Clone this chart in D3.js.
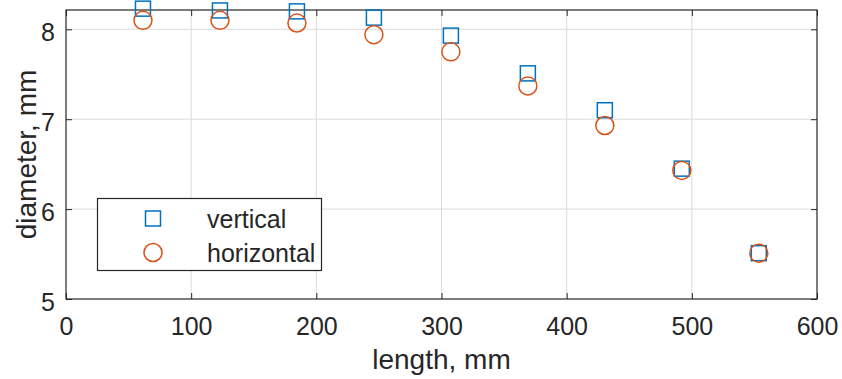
<!DOCTYPE html>
<html>
<head>
<meta charset="utf-8">
<script src="https://cdn.jsdelivr.net/npm/d3@7"></script>
<style>
  html, body { margin: 0; padding: 0; background: #fff; }
  svg { display: block; }
  text { font-family: "Liberation Sans", Arial, Helvetica, sans-serif; fill: #262626; }
</style>
</head>
<body>
<svg id="chart" width="842" height="379"></svg>
<script>
// ---- data ----
const lengths = [61.5, 123, 184.5, 246, 307.5, 369, 430.5, 492, 553.5];
const vertical = [8.23, 8.21, 8.20, 8.13, 7.93, 7.51, 7.10, 6.45, 5.51];
const horizontal = [8.10, 8.10, 8.07, 7.94, 7.75, 7.37, 6.93, 6.43, 5.51];
const xTicks = [0, 100, 200, 300, 400, 500, 600];
const yTicks = [5, 6, 7, 8];
const seriesNames = ["vertical", "horizontal"];
const xLabel = "length, mm";
const yLabel = "diameter, mm";

// ---- layout ----
const L = 66, R = 817, T = 10, B = 299;
const svg = d3.select("#chart");
const x = d3.scaleLinear().domain([0, 600]).range([L, R]);
const y = d3.scaleLinear().domain([5, 8.215]).range([B, T]);
const axisColor = "#262626";
const gridColor = "#dcdcdc";
const blue = "#0072BD", orange = "#D95319";

// grid
svg.append("g").selectAll("line").data(xTicks.slice(1, -1)).join("line")
  .attr("x1", d => x(d)).attr("x2", d => x(d)).attr("y1", T).attr("y2", B)
  .attr("stroke", gridColor).attr("stroke-width", 1);
svg.append("g").selectAll("line").data(yTicks.filter(d => d > 5)).join("line")
  .attr("x1", L).attr("x2", R).attr("y1", d => y(d)).attr("y2", d => y(d))
  .attr("stroke", gridColor).attr("stroke-width", 1);

// axes with inward ticks
const tl = 6;
const gx = svg.append("g").attr("transform", `translate(0,${B})`)
  .call(d3.axisBottom(x).tickValues(xTicks).tickSizeInner(-tl).tickSizeOuter(0).tickPadding(18));
const gxt = svg.append("g").attr("transform", `translate(0,${T})`)
  .call(d3.axisTop(x).tickValues(xTicks).tickSizeInner(-tl).tickSizeOuter(0).tickFormat(""));
const gy = svg.append("g").attr("transform", `translate(${L},0)`)
  .call(d3.axisLeft(y).tickValues(yTicks).tickSizeInner(-tl).tickSizeOuter(0).tickPadding(11).tickFormat(d3.format("d")));
const gyr = svg.append("g").attr("transform", `translate(${R},0)`)
  .call(d3.axisRight(y).tickValues(yTicks).tickSizeInner(-tl).tickSizeOuter(0).tickFormat(""));
[gx, gxt, gy, gyr].forEach(g => {
  g.select(".domain").remove();
  g.selectAll("line").attr("stroke", axisColor).attr("stroke-width", 1);
  g.selectAll("text").attr("font-size", 25).style("fill", axisColor)
    .attr("font-family", '"Liberation Sans", Arial, sans-serif');
});
gx.selectAll("text").attr("dy", "0.72em");
gy.selectAll("text").attr("dy", "0.44em");

// box
svg.append("rect").attr("x", L).attr("y", T).attr("width", R - L).attr("height", B - T)
  .attr("fill", "none").attr("stroke", axisColor).attr("stroke-width", 1.2);

// labels
svg.append("text").attr("x", (L + R) / 2).attr("y", 369).attr("text-anchor", "middle")
  .attr("font-size", 28).text(xLabel);
svg.append("text").attr("transform", `translate(36,${(T + B) / 2}) rotate(-90)`)
  .attr("text-anchor", "middle").attr("font-size", 28).text(yLabel);

// markers
const sq = 15, cr = 9;
svg.append("g").selectAll("rect").data(lengths.map((d, i) => [d, vertical[i]])).join("rect")
  .attr("x", d => x(d[0]) - sq / 2).attr("y", d => y(d[1]) - sq / 2)
  .attr("width", sq).attr("height", sq)
  .attr("fill", "none").attr("stroke", blue).attr("stroke-width", 1.5);
svg.append("g").selectAll("circle").data(lengths.map((d, i) => [d, horizontal[i]])).join("circle")
  .attr("cx", d => x(d[0])).attr("cy", d => y(d[1])).attr("r", cr)
  .attr("fill", "none").attr("stroke", orange).attr("stroke-width", 1.5);

// legend
const lg = svg.append("g");
lg.append("rect").attr("x", 97.5).attr("y", 198.5).attr("width", 224).attr("height", 72)
  .attr("fill", "#fff").attr("stroke", axisColor).attr("stroke-width", 1.2);
lg.append("rect").attr("x", 153 - sq / 2).attr("y", 218.5 - sq / 2).attr("width", sq).attr("height", sq)
  .attr("fill", "none").attr("stroke", blue).attr("stroke-width", 1.5);
lg.append("circle").attr("cx", 153).attr("cy", 252.5).attr("r", cr)
  .attr("fill", "none").attr("stroke", orange).attr("stroke-width", 1.5);
lg.selectAll("text.lt").data(seriesNames).join("text").attr("class", "lt")
  .attr("x", 207).attr("y", (d, i) => 218.5 + i * 34).attr("dy", "0.36em")
  .attr("font-size", 25).text(d => d);
</script>
</body>
</html>
